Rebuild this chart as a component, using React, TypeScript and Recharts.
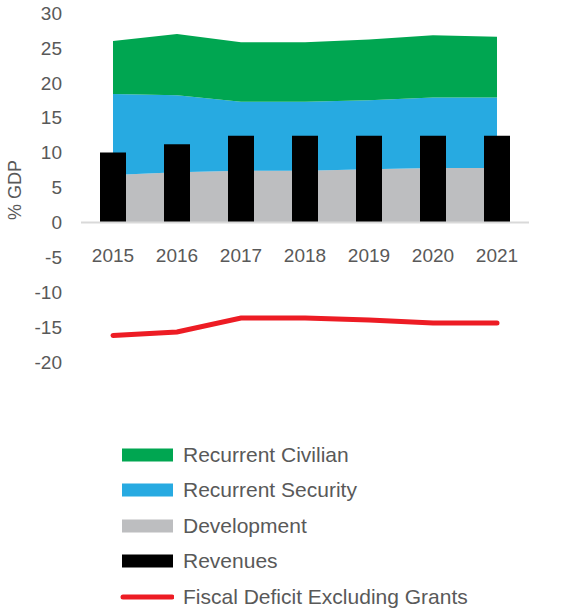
import * as React from 'react';
import {
  ComposedChart, Area, Bar, Line, XAxis, YAxis, ReferenceLine,
} from 'recharts';

const years = ['2015', '2016', '2017', '2018', '2019', '2020', '2021'];
const development = [6.8, 7.2, 7.4, 7.4, 7.6, 7.8, 7.8];
const recurrentSecurity = [11.6, 11.0, 9.9, 9.9, 9.9, 10.1, 10.1];
const recurrentCivilian = [7.6, 8.8, 8.5, 8.5, 8.7, 8.9, 8.7];
const revenues = [10.0, 11.2, 12.4, 12.4, 12.4, 12.4, 12.4];
const fiscalDeficit = [-16.2, -15.7, -13.7, -13.7, -14.0, -14.4, -14.4];
const yTicks = [-20, -15, -10, -5, 0, 5, 10, 15, 20, 25, 30];

const series = [
  { name: 'Recurrent Civilian', color: '#00a651', kind: 'rect' },
  { name: 'Recurrent Security', color: '#27aae1', kind: 'rect' },
  { name: 'Development', color: '#bdbec0', kind: 'rect' },
  { name: 'Revenues', color: '#000000', kind: 'rect' },
  { name: 'Fiscal Deficit Excluding Grants', color: '#ed1c24', kind: 'line' },
];

const data = years.map((year, i) => ({
  year,
  development: development[i],
  security: recurrentSecurity[i],
  civilian: recurrentCivilian[i],
  revenues: revenues[i],
  deficit: fiscalDeficit[i],
}));

const FONT = '"Liberation Sans", Arial, sans-serif';
const TEXT = '#595959';
const colorOf = (name: string) => series.find((s) => s.name === name)!.color;

const YearTick = (props: any) => {
  const { x, y, payload } = props;
  // labels sit just under the zero line, not at the bottom of the plot
  return (
    <text x={x} y={y - 108} textAnchor="middle" fill={TEXT} fontSize={19} fontFamily={FONT}>
      {payload.value}
    </text>
  );
};

const LegendBox = () => (
  <div style={{ position: 'absolute', left: 112, top: 437, fontFamily: FONT, fontSize: 21, color: TEXT }}>
    {series.map((s) => (
      <div key={s.name} style={{ display: 'flex', alignItems: 'center', height: 35.5 }}>
        <svg width={62} height={16}>
          {s.kind === 'line' ? (
            <line x1={11} y1={8} x2={60} y2={8} stroke={s.color} strokeWidth={5} strokeLinecap="round" />
          ) : (
            <rect x={10} y={1.5} width={51} height={13} fill={s.color} />
          )}
        </svg>
        <span style={{ marginLeft: 9 }}>{s.name}</span>
      </div>
    ))}
  </div>
);

export default function App() {
  return (
    <div style={{ position: 'absolute', left: 0, top: 0, width: 577, height: 610 }}>
      <ComposedChart
        width={577}
        height={610}
        data={data}
        margin={{ top: 13, right: 48, left: 0, bottom: 218 }}
      >
        <XAxis dataKey="year" axisLine={false} tickLine={false} tick={<YearTick />} interval={0} />
        <YAxis
          domain={[-20, 30]}
          ticks={yTicks}
          interval={0}
          width={81}
          axisLine={false}
          tickLine={false}
          tickMargin={13}
          tick={{ fill: TEXT, fontSize: 19, fontFamily: FONT }}
          label={{
            content: () => (
              <text
                x={21}
                y={190}
                transform="rotate(-90 21 190)"
                textAnchor="middle"
                fill={TEXT}
                fontSize={18}
                fontFamily={FONT}
              >
                % GDP
              </text>
            ),
          }}
        />
        <Area
          type="linear"
          dataKey="development"
          name="Development"
          stackId="a"
          stroke="none"
          fill={colorOf('Development')}
          fillOpacity={1}
          isAnimationActive={false}
        />
        <Area
          type="linear"
          dataKey="security"
          name="Recurrent Security"
          stackId="a"
          stroke="none"
          fill={colorOf('Recurrent Security')}
          fillOpacity={1}
          isAnimationActive={false}
        />
        <Area
          type="linear"
          dataKey="civilian"
          name="Recurrent Civilian"
          stackId="a"
          stroke="none"
          fill={colorOf('Recurrent Civilian')}
          fillOpacity={1}
          isAnimationActive={false}
        />
        <ReferenceLine y={0} stroke="#d9d9d9" strokeWidth={2} />
        <Bar dataKey="revenues" name="Revenues" fill={colorOf('Revenues')} barSize={26} isAnimationActive={false} />
        <Line
          type="linear"
          dataKey="deficit"
          name="Fiscal Deficit Excluding Grants"
          stroke={colorOf('Fiscal Deficit Excluding Grants')}
          strokeWidth={5}
          strokeLinecap="round"
          dot={false}
          activeDot={false}
          isAnimationActive={false}
        />
      </ComposedChart>
      <LegendBox />
    </div>
  );
}
